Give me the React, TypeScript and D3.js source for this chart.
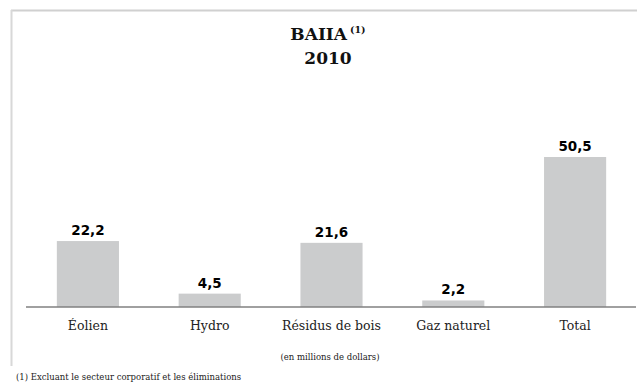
import React from "react";
import * as d3 from "d3";

const categories: string[] = ["Éolien", "Hydro", "Résidus de bois", "Gaz naturel", "Total"];
const values: number[] = [22.2, 4.5, 21.6, 2.2, 50.5];
const valueLabels: string[] = ["22,2", "4,5", "21,6", "2,2", "50,5"];
const titleMain = "BAIIA";
const titleSup = "(1)";
const titleYear = "2010";
const unitNote = "(en millions de dollars)";
const footnote = "(1) Excluant le secteur corporatif et les éliminations";

const W = 637;
const H = 383;

export default function App() {
  const x = d3.scaleBand<string>().domain(categories).range([27, 636]).paddingInner(0.49).paddingOuter(0.245);
  const y = d3.scaleLinear().domain([0, 50.5]).range([307, 157]);
  const serif = "'DejaVu Serif', 'Liberation Serif', serif";
  const sans = "'DejaVu Sans', 'Liberation Sans', sans-serif";
  return (
    <div style={{ position: "fixed", left: 0, top: 0, width: W, height: H, background: "#fff" }}>
      <svg width={W} height={H} style={{ display: "block" }}>
        <line x1={11} x2={637} y1={10.5} y2={10.5} stroke="#d0d0d0" strokeWidth={2} />
        <line x1={11.5} x2={11.5} y1={10} y2={366} stroke="#d8d8d8" strokeWidth={2} />
        <text x={328} y={40} textAnchor="middle" fontFamily={serif} fontWeight="bold" fontSize={17} fill="#111">
          {titleMain}
          <tspan dx={3} dy={-7} fontSize={9.5}>{titleSup}</tspan>
        </text>
        <text x={328} y={64} textAnchor="middle" fontFamily={serif} fontWeight="bold" fontSize={17} fill="#111">
          {titleYear}
        </text>
        {categories.map((c, i) => (
          <g key={c}>
            <rect x={x(c)} y={y(values[i])} width={x.bandwidth()} height={y(0) - y(values[i])} fill="#cbcccd" />
            <text x={(x(c) as number) + x.bandwidth() / 2} y={y(values[i]) - 6} textAnchor="middle" fontFamily={sans} fontWeight="bold" fontSize={13.5} fill="#000">
              {valueLabels[i]}
            </text>
            <text x={(x(c) as number) + x.bandwidth() / 2} y={330} textAnchor="middle" fontFamily={serif} fontSize={12.5} fill="#222">
              {c}
            </text>
          </g>
        ))}
        <line x1={26} x2={636} y1={y(0)} y2={y(0)} stroke="#808080" strokeWidth={1.5} />
        <text x={330} y={360} textAnchor="middle" fontFamily={serif} fontSize={8.5} fill="#222">{unitNote}</text>
        <text x={16} y={380} fontFamily={serif} fontSize={8.5} fill="#222">{footnote}</text>
      </svg>
    </div>
  );
}
